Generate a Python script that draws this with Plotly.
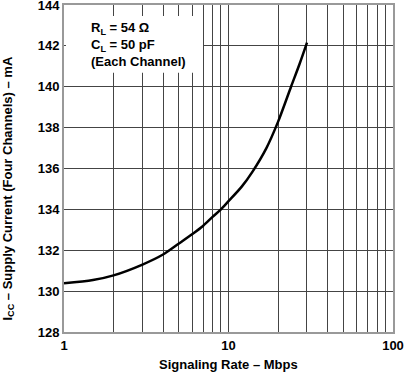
import plotly.graph_objects as go

rate_mbps = [1, 1.5, 2, 3, 4, 5, 6, 7, 8, 9, 10, 12, 14, 17, 20, 24, 27, 30]
icc_ma = [130.38, 130.54, 130.77, 131.3, 131.79, 132.33, 132.78, 133.19, 133.63, 134.0,
          134.4, 135.1, 135.85, 137.0, 138.28, 140.0, 141.1, 142.16]
x_ticks = [1, 10, 100]
x_grid = [2, 3, 4, 5, 6, 7, 8, 9, 20, 30, 40, 50, 60, 70, 80, 90]
y_ticks = [128, 130, 132, 134, 136, 138, 140, 142, 144]

FONT = "Liberation Sans, Arial, sans-serif"

fig = go.Figure()
fig.add_trace(go.Scatter(x=rate_mbps, y=icc_ma, mode="lines",
                         line=dict(color="black", width=2.5, shape="spline", smoothing=0.8),
                         showlegend=False, hoverinfo="skip"))

fig.update_xaxes(type="log", range=[0, 2], tickvals=x_ticks,
                 ticktext=[str(v) for v in x_ticks], automargin=False,
                 ticklabeloverflow="allow",
                 showgrid=True, gridcolor="#444", gridwidth=1,
                 minor=dict(tickvals=x_grid, showgrid=True, gridcolor="#444", gridwidth=1),
                 showline=True, linecolor="#999", linewidth=2, mirror=True,
                 zeroline=False, ticks="", tickfont=dict(family=FONT, size=13, color="black"))
fig.update_yaxes(range=[128, 144], tickvals=y_ticks, automargin=False,
                 ticklabeloverflow="allow",
                 showgrid=True, gridcolor="#444", gridwidth=1,
                 showline=True, linecolor="#999", linewidth=2, mirror=True,
                 zeroline=False, ticks="", tickfont=dict(family=FONT, size=13, color="black"))

fig.add_shape(type="rect", xref="paper", yref="paper", x0=0.006, x1=0.4225, y0=0.793, y1=0.966,
              fillcolor="white", line=dict(width=0), layer="above")
fig.add_annotation(xref="paper", yref="paper", x=0.076, y=0.88, xanchor="left", yanchor="middle",
                   align="left", showarrow=False,
                   text="R<sub>L</sub> = 54 Ω<br>C<sub>L</sub> = 50 pF<br>(Each Channel)",
                   font=dict(family=FONT, size=13, color="black"))

fig.add_annotation(xref="paper", yref="paper", x=0.5, y=-0.098, xanchor="center", yanchor="middle",
                   showarrow=False, text="<b>Signaling Rate – Mbps</b>",
                   font=dict(family=FONT, size=13, color="black"))
fig.add_annotation(xref="paper", yref="paper", x=-0.17, y=0.439, xanchor="center", yanchor="middle",
                   textangle=-90, showarrow=False,
                   text="<b>I<sub>CC</sub> – Supply Current (Four Channels) – mA</b>",
                   font=dict(family=FONT, size=13, color="black"))

fig.update_layout(width=405, height=374, margin=dict(l=64, r=12, t=5, b=42),
                  plot_bgcolor="white", paper_bgcolor="white",
                  font=dict(family=FONT, size=13, color="black", weight="bold"))
fig.write_html("out.html", config={"displayModeBar": False},
               post_script="document.body.style.margin='0';document.body.style.padding='0';")
